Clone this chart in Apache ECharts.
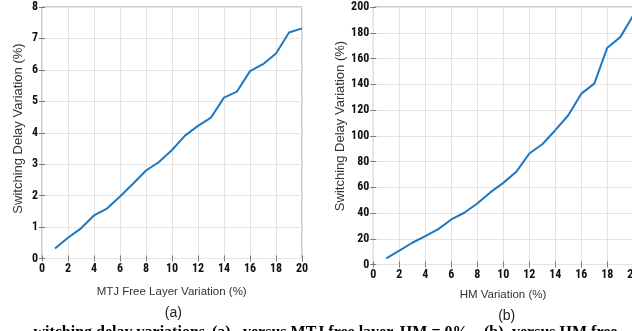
<!DOCTYPE html>
<html><head><meta charset="utf-8">
<script src="https://cdn.jsdelivr.net/npm/echarts@6/dist/echarts.min.js"></script>
<style>html,body{margin:0;padding:0;background:#fff}#c{width:632px;height:331px}</style>
</head><body><div id="c"></div>
<script>
const xA = [1,2,3,4,5,6,7,8,9,10,11,12,13,14,15,16,17,18,19,20];
const delayA = [0.32,0.66,0.96,1.37,1.59,1.97,2.38,2.80,3.07,3.45,3.91,4.22,4.48,5.12,5.31,5.96,6.18,6.52,7.19,7.32];
const xB = [1,2,3,4,5,6,7,8,9,10,11,12,13,14,15,16,17,18,19,20];
const delayB = [4.8,10.7,16.9,22.1,27.5,35.0,40.2,47.4,56.0,63.4,72.0,86.2,93.4,104.3,115.9,132.7,140.5,168.4,176.6,193.6];
const xTicks = [0,2,4,6,8,10,12,14,16,18,20];
const yTicksA = [0,1,2,3,4,5,6,7,8];
const yTicksB = [0,20,40,60,80,100,120,140,160,180,200];

const tickFont = {fontFamily:"'Liberation Sans Narrow','Roboto Condensed','Liberation Sans',Arial",fontWeight:'bold',fontSize:12,color:'#111'};
const titleFont = "'Liberation Sans',Arial,sans-serif";
const chart = echarts.init(document.getElementById('c'));
function xAx(gi, pos, show){return {type:'value',gridIndex:gi,position:pos,min:0,max:20,interval:2,
  axisLine:{show:false},axisTick:{show:true,inside:true,length:3,lineStyle:{color:'#777'}},
  axisLabel:Object.assign({show:show,margin:4},tickFont),
  splitLine:{show:pos==='bottom',lineStyle:{color:'#e4e4e4',width:1}}};}
function yAx(gi, pos, show, max, iv){return {type:'value',gridIndex:gi,position:pos,min:0,max:max,interval:iv,
  axisLine:{show:false},axisTick:{show:true,inside:true,length:3,lineStyle:{color:'#777'}},
  axisLabel:Object.assign({show:show,margin:4},tickFont),
  splitLine:{show:pos==='left',lineStyle:{color:'#e4e4e4',width:1}}};}
const pairs = (xs, ys) => xs.map((x,i)=>[x,ys[i]]);
chart.setOption({
  animation:false,
  grid:[
    {left:42,top:7,width:260,height:251.5,show:true,borderColor:'#9a9a9a',borderWidth:1,backgroundColor:'transparent',containLabel:false,outerBoundsMode:'none'},
    {left:373.3,top:7,width:260,height:257.5,show:true,borderColor:'#9a9a9a',borderWidth:1,backgroundColor:'transparent',containLabel:false,outerBoundsMode:'none'}
  ],
  xAxis:[xAx(0,'bottom',true),xAx(0,'top',false),xAx(1,'bottom',true),xAx(1,'top',false)],
  yAxis:[yAx(0,'left',true,8,1),yAx(0,'right',false,8,1),yAx(1,'left',true,200,20),yAx(1,'right',false,200,20)],
  series:[
    {type:'line',xAxisIndex:0,yAxisIndex:0,data:pairs(xA,delayA),showSymbol:false,lineStyle:{color:'#1f78c1',width:2},clip:true},
    {type:'line',xAxisIndex:2,yAxisIndex:2,data:pairs(xB,delayB),showSymbol:false,lineStyle:{color:'#1f78c1',width:2},clip:true}
  ],
  graphic:[
    {type:'text',x:18.3,y:128.5,rotation:Math.PI/2,style:{text:'Switching Delay Variation (%)',font:'13px '+titleFont,fill:'#333',textAlign:'center',textVerticalAlign:'middle'}},
    {type:'text',x:340.7,y:126,rotation:Math.PI/2,style:{text:'Switching Delay Variation (%)',font:'13px '+titleFont,fill:'#333',textAlign:'center',textVerticalAlign:'middle'}},
    {type:'text',x:171.7,y:292,style:{text:'MTJ Free Layer Variation (%)',font:'11.5px '+titleFont,fill:'#333',textAlign:'center',textVerticalAlign:'middle'}},
    {type:'text',x:503,y:295,style:{text:'HM Variation (%)',font:'11.5px '+titleFont,fill:'#333',textAlign:'center',textVerticalAlign:'middle'}},
    {type:'text',x:173.3,y:313.5,style:{text:'(a)',font:'14px '+titleFont,fill:'#222',textAlign:'center',textVerticalAlign:'middle'}},
    {type:'text',x:506.7,y:316,style:{text:'(b)',font:'14px '+titleFont,fill:'#222',textAlign:'center',textVerticalAlign:'middle'}},
    {type:'text',x:205,y:324.5,style:{text:'witching delay variations',font:'bold 16px "Liberation Serif",serif',fill:'#000',textAlign:'right',textVerticalAlign:'top'}},
    {type:'text',x:212,y:324.5,style:{text:'(a)',font:'bold 16px "Liberation Serif",serif',fill:'#000',textAlign:'left',textVerticalAlign:'top'}},
    {type:'text',x:243,y:324.5,style:{text:'versus MTJ free layer, HM = 0%,',font:'bold 16px "Liberation Serif",serif',fill:'#000',textAlign:'left',textVerticalAlign:'top'}},
    {type:'text',x:484,y:324.5,style:{text:'(b)',font:'bold 16px "Liberation Serif",serif',fill:'#000',textAlign:'left',textVerticalAlign:'top'}},
    {type:'text',x:512,y:324.5,style:{text:'versus HM free',font:'bold 16px "Liberation Serif",serif',fill:'#000',textAlign:'left',textVerticalAlign:'top'}}
  ]
});
</script></body></html>
